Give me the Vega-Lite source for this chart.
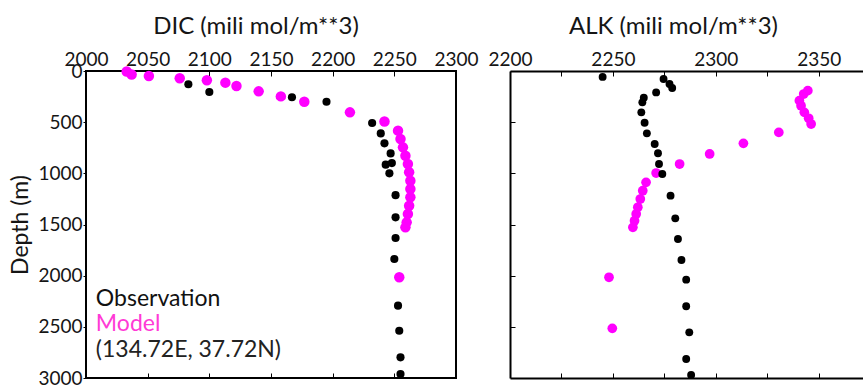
{
  "$schema": "https://vega.github.io/schema/vega-lite/v6.json",
  "background": "white",
  "padding": {"left": 8, "top": 14, "right": 0, "bottom": 0},
  "config": {
    "font": "Lato",
    "view": {"stroke": null},
    "axis": {"grid": false, "labelColor": "#151515", "titleColor": "#151515", "tickColor": "black", "domainColor": "black", "labelFont": "Lato", "titleFont": "Lato", "format": "d"},
    "title": {"font": "Lato", "fontWeight": "normal", "fontSize": 24, "color": "#151515"}
  },
  "datasets": {
    "profiles": [
      {"var": "DIC", "series": "Model", "value": 2033, "depth": 5},
      {"var": "DIC", "series": "Model", "value": 2037, "depth": 35},
      {"var": "DIC", "series": "Model", "value": 2051, "depth": 49},
      {"var": "DIC", "series": "Model", "value": 2076, "depth": 71},
      {"var": "DIC", "series": "Model", "value": 2098, "depth": 91},
      {"var": "DIC", "series": "Model", "value": 2113, "depth": 114},
      {"var": "DIC", "series": "Model", "value": 2122, "depth": 147},
      {"var": "DIC", "series": "Model", "value": 2140, "depth": 199},
      {"var": "DIC", "series": "Model", "value": 2158, "depth": 248},
      {"var": "DIC", "series": "Model", "value": 2177, "depth": 300},
      {"var": "DIC", "series": "Model", "value": 2214, "depth": 404},
      {"var": "DIC", "series": "Model", "value": 2242, "depth": 494},
      {"var": "DIC", "series": "Model", "value": 2253, "depth": 583},
      {"var": "DIC", "series": "Model", "value": 2255, "depth": 665},
      {"var": "DIC", "series": "Model", "value": 2257, "depth": 746},
      {"var": "DIC", "series": "Model", "value": 2259, "depth": 828},
      {"var": "DIC", "series": "Model", "value": 2261, "depth": 909},
      {"var": "DIC", "series": "Model", "value": 2262, "depth": 990},
      {"var": "DIC", "series": "Model", "value": 2263, "depth": 1072},
      {"var": "DIC", "series": "Model", "value": 2263, "depth": 1153},
      {"var": "DIC", "series": "Model", "value": 2263, "depth": 1234},
      {"var": "DIC", "series": "Model", "value": 2262, "depth": 1316},
      {"var": "DIC", "series": "Model", "value": 2261, "depth": 1397},
      {"var": "DIC", "series": "Model", "value": 2260, "depth": 1479},
      {"var": "DIC", "series": "Model", "value": 2259, "depth": 1528},
      {"var": "DIC", "series": "Model", "value": 2254, "depth": 2016},
      {"var": "DIC", "series": "Observation", "value": 2083, "depth": 130},
      {"var": "DIC", "series": "Observation", "value": 2100, "depth": 205},
      {"var": "DIC", "series": "Observation", "value": 2167, "depth": 257},
      {"var": "DIC", "series": "Observation", "value": 2195, "depth": 300},
      {"var": "DIC", "series": "Observation", "value": 2232, "depth": 508},
      {"var": "DIC", "series": "Observation", "value": 2239, "depth": 610},
      {"var": "DIC", "series": "Observation", "value": 2242, "depth": 707},
      {"var": "DIC", "series": "Observation", "value": 2247, "depth": 805},
      {"var": "DIC", "series": "Observation", "value": 2248, "depth": 900},
      {"var": "DIC", "series": "Observation", "value": 2243, "depth": 915},
      {"var": "DIC", "series": "Observation", "value": 2246, "depth": 1000},
      {"var": "DIC", "series": "Observation", "value": 2251, "depth": 1213},
      {"var": "DIC", "series": "Observation", "value": 2251, "depth": 1430},
      {"var": "DIC", "series": "Observation", "value": 2251, "depth": 1632},
      {"var": "DIC", "series": "Observation", "value": 2250, "depth": 1837},
      {"var": "DIC", "series": "Observation", "value": 2253, "depth": 2293},
      {"var": "DIC", "series": "Observation", "value": 2254, "depth": 2538},
      {"var": "DIC", "series": "Observation", "value": 2255, "depth": 2798},
      {"var": "DIC", "series": "Observation", "value": 2255, "depth": 2961},
      {"var": "ALK", "series": "Model", "value": 2344.7, "depth": 192},
      {"var": "ALK", "series": "Model", "value": 2342.7, "depth": 225},
      {"var": "ALK", "series": "Model", "value": 2340.6, "depth": 290},
      {"var": "ALK", "series": "Model", "value": 2341.4, "depth": 339},
      {"var": "ALK", "series": "Model", "value": 2343, "depth": 404},
      {"var": "ALK", "series": "Model", "value": 2345.1, "depth": 462},
      {"var": "ALK", "series": "Model", "value": 2346.3, "depth": 518},
      {"var": "ALK", "series": "Model", "value": 2330.6, "depth": 600},
      {"var": "ALK", "series": "Model", "value": 2313.4, "depth": 707},
      {"var": "ALK", "series": "Model", "value": 2297, "depth": 811},
      {"var": "ALK", "series": "Model", "value": 2282.4, "depth": 909},
      {"var": "ALK", "series": "Model", "value": 2271, "depth": 997},
      {"var": "ALK", "series": "Model", "value": 2266.1, "depth": 1088},
      {"var": "ALK", "series": "Model", "value": 2264.5, "depth": 1170},
      {"var": "ALK", "series": "Model", "value": 2263.3, "depth": 1251},
      {"var": "ALK", "series": "Model", "value": 2262.1, "depth": 1332},
      {"var": "ALK", "series": "Model", "value": 2261.3, "depth": 1397},
      {"var": "ALK", "series": "Model", "value": 2260.5, "depth": 1463},
      {"var": "ALK", "series": "Model", "value": 2259.7, "depth": 1528},
      {"var": "ALK", "series": "Model", "value": 2248.1, "depth": 2016},
      {"var": "ALK", "series": "Model", "value": 2249.7, "depth": 2515},
      {"var": "ALK", "series": "Observation", "value": 2245, "depth": 58},
      {"var": "ALK", "series": "Observation", "value": 2274.6, "depth": 78},
      {"var": "ALK", "series": "Observation", "value": 2277.5, "depth": 127},
      {"var": "ALK", "series": "Observation", "value": 2278.8, "depth": 166},
      {"var": "ALK", "series": "Observation", "value": 2271, "depth": 209},
      {"var": "ALK", "series": "Observation", "value": 2265, "depth": 262},
      {"var": "ALK", "series": "Observation", "value": 2264.3, "depth": 306},
      {"var": "ALK", "series": "Observation", "value": 2263.8, "depth": 404},
      {"var": "ALK", "series": "Observation", "value": 2265.4, "depth": 506},
      {"var": "ALK", "series": "Observation", "value": 2266.5, "depth": 609},
      {"var": "ALK", "series": "Observation", "value": 2270.3, "depth": 713},
      {"var": "ALK", "series": "Observation", "value": 2271.9, "depth": 804},
      {"var": "ALK", "series": "Observation", "value": 2272.4, "depth": 909},
      {"var": "ALK", "series": "Observation", "value": 2274, "depth": 1007},
      {"var": "ALK", "series": "Observation", "value": 2278, "depth": 1218},
      {"var": "ALK", "series": "Observation", "value": 2280.3, "depth": 1440},
      {"var": "ALK", "series": "Observation", "value": 2281.6, "depth": 1642},
      {"var": "ALK", "series": "Observation", "value": 2283.3, "depth": 1847},
      {"var": "ALK", "series": "Observation", "value": 2285.6, "depth": 2039},
      {"var": "ALK", "series": "Observation", "value": 2285.6, "depth": 2299},
      {"var": "ALK", "series": "Observation", "value": 2287.1, "depth": 2554},
      {"var": "ALK", "series": "Observation", "value": 2285.6, "depth": 2814},
      {"var": "ALK", "series": "Observation", "value": 2288, "depth": 2971}
    ],
    "notes": [
      {"label": "Observation", "kind": "Observation", "value": 2008, "depth": 2294},
      {"label": "Model", "kind": "Model", "value": 2008, "depth": 2538},
      {"label": "(134.72E, 37.72N)", "kind": "Site", "value": 2008, "depth": 2798}
    ]
  },
  "spacing": 54,
  "bounds": "flush",
  "hconcat": [
    {
      "width": 370,
      "height": 307,
      "view": {"stroke": "black", "strokeWidth": 2},
      "title": {"text": "DIC (mili mol/m**3)", "dx": -15, "offset": 11},
      "resolve": {"axis": {"x": "independent"}, "scale": {"color": "independent"}},
      "layer": [
        {
          "data": {"name": "profiles"},
          "transform": [{"filter": "datum.var === 'DIC' && datum.series === 'Model'"}],
          "mark": {"type": "circle", "opacity": 1, "size": 110, "color": "#ff00ff"},
          "encoding": {
            "x": {"field": "value", "type": "quantitative", "scale": {"domain": [2000, 2300], "nice": false, "zero": false},
                  "axis": {"orient": "bottom", "title": null, "values": [2050, 2100, 2150, 2200, 2250], "labels": false, "domain": false, "tickSize": -5}},
            "y": {"field": "depth", "type": "quantitative", "scale": {"domain": [0, 3000], "reverse": true, "nice": false, "zero": false},
                  "axis": {"orient": "left", "title": "Depth (m)", "titleFontSize": 23, "titleFontWeight": "normal", "titlePadding": 5, "values": [0, 500, 1000, 1500, 2000, 2500, 3000], "labelFontSize": 19, "labelPadding": 1, "tickSize": 3, "domain": false}}
          }
        },
        {
          "data": {"name": "profiles"},
          "transform": [{"filter": "datum.var === 'DIC' && datum.series === 'Observation'"}],
          "mark": {"type": "circle", "opacity": 1, "size": 66, "color": "black"},
          "encoding": {
            "x": {"field": "value", "type": "quantitative", "scale": {"domain": [2000, 2300], "nice": false, "zero": false},
                  "axis": {"orient": "top", "title": null, "values": [2000, 2050, 2100, 2150, 2200, 2250, 2300], "labelFontSize": 19, "labelFlush": false, "labelOverlap": false, "domain": false, "tickSize": -5, "labelPadding": 7}},
            "y": {"field": "depth", "type": "quantitative", "scale": {"domain": [0, 3000], "reverse": true, "nice": false, "zero": false},
                  "axis": {"orient": "left", "title": "Depth (m)", "titleFontSize": 23, "titleFontWeight": "normal", "titlePadding": 5, "values": [0, 500, 1000, 1500, 2000, 2500, 3000], "labelFontSize": 19, "labelPadding": 1, "tickSize": 3, "domain": false}}
          }
        },
        {
          "data": {"name": "notes"},
          "mark": {"type": "text", "align": "left", "baseline": "alphabetic", "fontSize": 23},
          "encoding": {
            "x": {"field": "value", "type": "quantitative", "scale": {"domain": [2000, 2300], "nice": false, "zero": false}, "axis": null},
            "y": {"field": "depth", "type": "quantitative", "scale": {"domain": [0, 3000], "reverse": true, "nice": false, "zero": false},
                  "axis": {"orient": "left", "title": "Depth (m)", "titleFontSize": 23, "titleFontWeight": "normal", "titlePadding": 5, "values": [0, 500, 1000, 1500, 2000, 2500, 3000], "labelFontSize": 19, "labelPadding": 1, "tickSize": 3, "domain": false}},
            "text": {"field": "label"},
            "color": {"field": "kind", "type": "nominal", "scale": {"domain": ["Observation", "Model", "Site"], "range": ["#111111", "#ff3ad6", "#222222"]}, "legend": null}
          }
        }
      ]
    },
    {
      "width": 353,
      "height": 307,
      "title": {"text": "ALK (mili mol/m**3)", "dx": -13, "offset": 11},
      "resolve": {"axis": {"x": "independent"}},
      "layer": [
        {
          "data": {"name": "profiles"},
          "transform": [{"filter": "datum.var === 'ALK' && datum.series === 'Model'"}],
          "mark": {"type": "circle", "opacity": 1, "size": 95, "color": "#ff00ff"},
          "encoding": {
            "x": {"field": "value", "type": "quantitative", "scale": {"domain": [2200, 2371.5], "nice": false, "zero": false},
                  "axis": {"orient": "bottom", "title": null, "values": [2225, 2250, 2275, 2300, 2325, 2350], "labels": false, "domain": true, "domainWidth": 2, "tickSize": -5}},
            "y": {"field": "depth", "type": "quantitative", "scale": {"domain": [0, 3000], "reverse": true, "nice": false, "zero": false},
                  "axis": {"orient": "left", "title": null, "values": [500, 1000, 1500, 2000, 2500], "labels": false, "tickSize": -5, "domain": true, "domainWidth": 2}}
          }
        },
        {
          "data": {"name": "profiles"},
          "transform": [{"filter": "datum.var === 'ALK' && datum.series === 'Observation'"}],
          "mark": {"type": "circle", "opacity": 1, "size": 62, "color": "black"},
          "encoding": {
            "x": {"field": "value", "type": "quantitative", "scale": {"domain": [2200, 2371.5], "nice": false, "zero": false},
                  "axis": {"orient": "top", "title": null, "values": [2200, 2225, 2250, 2275, 2300, 2325, 2350], "labelExpr": "datum.value % 50 === 0 ? datum.label : ''", "labelFontSize": 19, "labelFlush": false, "labelOverlap": false, "domain": true, "domainWidth": 2, "tickSize": -5, "labelPadding": 7}},
            "y": {"field": "depth", "type": "quantitative", "scale": {"domain": [0, 3000], "reverse": true, "nice": false, "zero": false},
                  "axis": {"orient": "left", "title": null, "values": [500, 1000, 1500, 2000, 2500], "labels": false, "tickSize": -5, "domain": true, "domainWidth": 2}}
          }
        }
      ]
    }
  ]
}
